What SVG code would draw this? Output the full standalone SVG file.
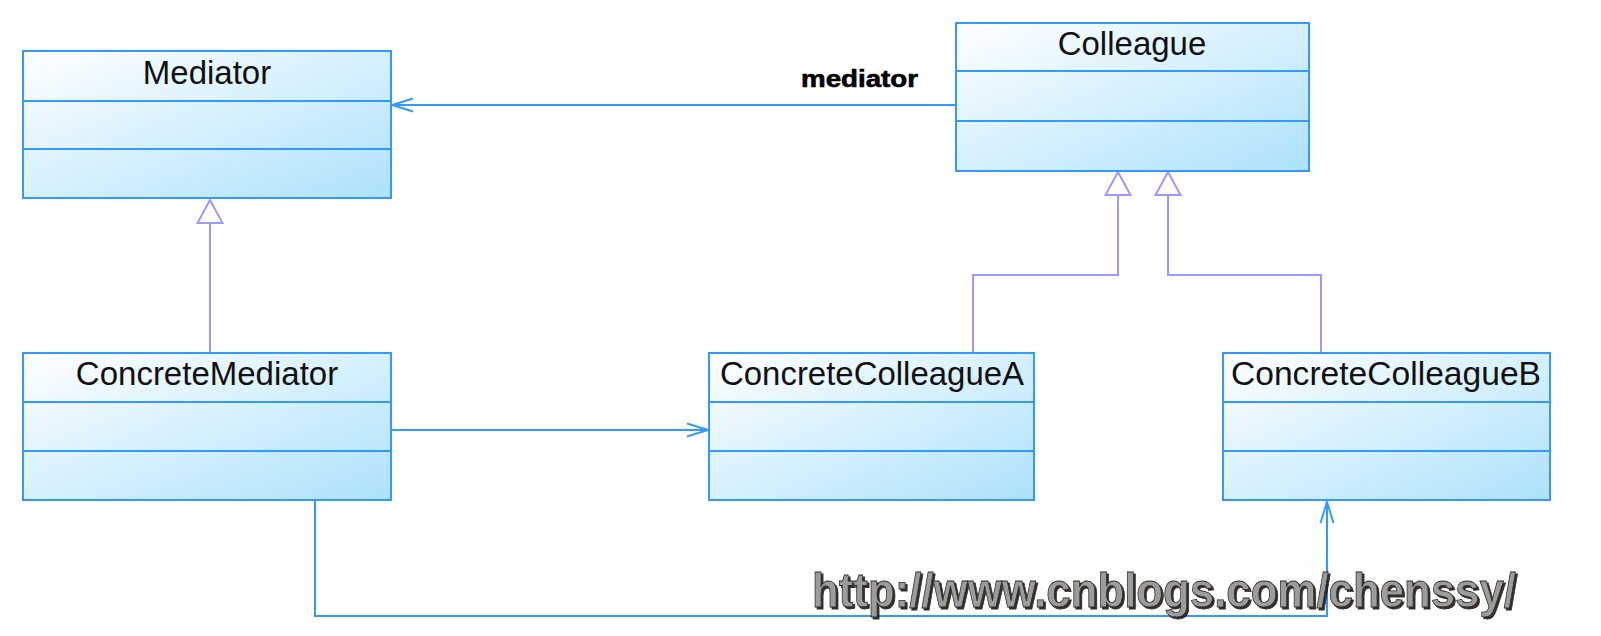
<svg xmlns="http://www.w3.org/2000/svg" width="1601" height="636" viewBox="0 0 1601 636">
<style>
.box{fill:url(#g);stroke:#3399ff;stroke-width:2}
.div{stroke:#3399ff;stroke-width:2}
.title{font-family:"Liberation Sans",Arial,sans-serif;font-size:33px;fill:#111;text-anchor:middle}
.assoc{fill:none;stroke:#3399ff;stroke-width:2}
.gen{fill:none;stroke:#9999ff;stroke-width:2}
.lbl{font-family:"Liberation Sans",Arial,sans-serif;font-size:23px;font-weight:bold;fill:#000;stroke:#000;stroke-width:0.6}
.url{font-family:"Liberation Sans",Arial,sans-serif;font-size:48px;font-weight:bold;fill:#9c9c9c;stroke:#2a2a2a;stroke-width:0.8}
</style>
<defs>
<linearGradient id="g" x1="0" y1="0" x2="1" y2="1">
<stop offset="0" stop-color="#ffffff"/>
<stop offset="1" stop-color="#ade2fb"/>
</linearGradient>
<marker id="open" viewBox="0 0 24 16" refX="23" refY="8" markerWidth="24" markerHeight="16" markerUnits="userSpaceOnUse" orient="auto">
<path d="M2 1.5 L23 8 L2 14.5" fill="none" stroke="#3399ff" stroke-width="2"/>
</marker>
<marker id="tri" viewBox="0 0 28 28" refX="27" refY="14" markerWidth="28" markerHeight="28" markerUnits="userSpaceOnUse" orient="auto">
<path d="M27 14 L4 1.5 L4 26.5 Z" fill="#ffffff" stroke="#9999ff" stroke-width="2"/>
</marker>
<filter id="sh" x="-5%" y="-20%" width="110%" height="150%">
<feDropShadow dx="2" dy="2" stdDeviation="0.6" flood-color="#1a1208" flood-opacity="0.9"/>
</filter>
</defs>

<g id="connectors">
<path class="assoc" d="M956 105 L392 105" marker-end="url(#open)"/>
<path class="gen" d="M210 353 L210 200" marker-end="url(#tri)"/>
<path class="gen" d="M973 353 L973 275 L1118 275 L1118 172" marker-end="url(#tri)"/>
<path class="gen" d="M1321 353 L1321 275 L1168 275 L1168 172" marker-end="url(#tri)"/>
<path class="assoc" d="M391 430 L708 430" marker-end="url(#open)"/>
<path class="assoc" d="M315 500 L315 616 L1327 616 L1327 502" marker-end="url(#open)"/>
<text class="lbl" x="801" y="87" textLength="117" lengthAdjust="spacingAndGlyphs">mediator</text>
</g>

<g id="Mediator">
<rect class="box" x="23" y="51" width="368" height="147"/>
<line class="div" x1="23" y1="101" x2="391" y2="101"/>
<line class="div" x1="23" y1="149" x2="391" y2="149"/>
<text class="title" x="207" y="84">Mediator</text>
</g>

<g id="Colleague">
<rect class="box" x="956" y="23" width="353" height="148"/>
<line class="div" x1="956" y1="71" x2="1309" y2="71"/>
<line class="div" x1="956" y1="121" x2="1309" y2="121"/>
<text class="title" x="1132" y="55">Colleague</text>
</g>

<g id="ConcreteMediator">
<rect class="box" x="23" y="353" width="368" height="147"/>
<line class="div" x1="23" y1="402" x2="391" y2="402"/>
<line class="div" x1="23" y1="451" x2="391" y2="451"/>
<text class="title" x="207" y="385">ConcreteMediator</text>
</g>

<g id="ConcreteColleagueA">
<rect class="box" x="709" y="353" width="325" height="147"/>
<line class="div" x1="709" y1="402" x2="1034" y2="402"/>
<line class="div" x1="709" y1="451" x2="1034" y2="451"/>
<text class="title" x="872" y="385" textLength="304" lengthAdjust="spacingAndGlyphs">ConcreteColleagueA</text>
</g>

<g id="ConcreteColleagueB">
<rect class="box" x="1223" y="353" width="327" height="147"/>
<line class="div" x1="1223" y1="402" x2="1550" y2="402"/>
<line class="div" x1="1223" y1="451" x2="1550" y2="451"/>
<text class="title" x="1386" y="385" textLength="310" lengthAdjust="spacingAndGlyphs">ConcreteColleagueB</text>
</g>

<text class="url" x="812" y="607" textLength="704" lengthAdjust="spacingAndGlyphs" filter="url(#sh)">http://www.cnblogs.com/chenssy/</text>
</svg>
